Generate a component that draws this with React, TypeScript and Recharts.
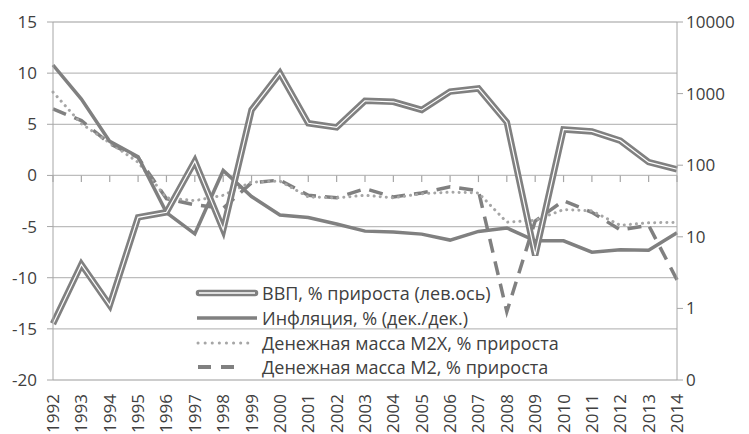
import React from "react";
import {
  CartesianGrid,
  Line,
  LineChart,
  ReferenceLine,
  XAxis,
  YAxis,
} from "recharts";

const years = [
  "1992", "1993", "1994", "1995", "1996", "1997", "1998", "1999", "2000", "2001", "2002", "2003",
  "2004", "2005", "2006", "2007", "2008", "2009", "2010", "2011", "2012", "2013", "2014",
];

// ВВП, % прироста (левая ось)
const gdp = [
  -14.5, -8.7, -12.7, -4.1, -3.6, 1.4, -5.3, 6.4, 10.0, 5.1, 4.7, 7.3,
  7.2, 6.4, 8.2, 8.5, 5.2, -7.8, 4.5, 4.3, 3.4, 1.3, 0.6,
];

// правая ось, логарифмическая
const inflation = [
  2509, 840, 215, 131, 21.8, 11, 84.4, 36.5, 20.2, 18.6, 15.1, 12,
  11.7, 10.9, 9, 11.9, 13.3, 8.8, 8.8, 6.1, 6.6, 6.5, 11.4,
];
const m2x = [
  1050, 380, 205, 110, 35, 32, 38, 58, 60, 36, 35, 38,
  35, 40, 42, 41, 16, 17, 24, 23, 14.5, 15.7, 15.9,
];
const m2 = [
  610, 420, 200, 128, 34, 28, 25, 57, 62, 38, 35, 47,
  36, 41, 50, 44, 0.9, 16.6, 32, 22, 12.5, 14.5, 2.5,
];

const leftTicks = [-20, -15, -10, -5, 0, 5, 10, 15];
const rightTicks = [0.1, 1, 10, 100, 1000, 10000];

const names = {
  gdp: "ВВП, % прироста (лев.ось)",
  inflation: "Инфляция, % (дек./дек.)",
  m2x: "Денежная масса M2X, % прироста",
  m2: "Денежная масса M2, % прироста",
};

const data = years.map((year, i) => ({
  year,
  gdp: gdp[i],
  inflation: inflation[i],
  m2x: m2x[i],
  m2: m2[i],
}));

// category boundaries for the small ticks on the zero line
const boundaries = Array.from({ length: years.length + 1 }, (_, i) => i);

const FONT = "'Open Sans', sans-serif";
const TEXT = "#404040";
const GRAY = "#808080";
const LIGHT = "#a6a6a6";
const GRID = "#bdbdbd";

const YearTick = (props: any) => {
  const { x, y, payload } = props;
  return (
    <text
      transform={`translate(${x + 6},${y}) rotate(-90)`}
      textAnchor="end"
      fill={TEXT}
      fontSize={17}
      fontFamily={FONT}
    >
      {payload.value}
    </text>
  );
};

const ChartLegend = () => {
  const rows = [
    {
      key: "gdp",
      icon: (
        <>
          <line x1={4} y1={6} x2={60} y2={6} stroke={GRAY} strokeWidth={6.5} strokeLinecap="round" />
          <line x1={4} y1={6} x2={60} y2={6} stroke="#fff" strokeWidth={1.3} />
        </>
      ),
    },
    {
      key: "inflation",
      icon: <line x1={2} y1={6} x2={62} y2={6} stroke={GRAY} strokeWidth={3.5} />,
    },
    {
      key: "m2x",
      icon: (
        <line x1={3} y1={6} x2={54} y2={6} stroke={LIGHT} strokeWidth={3} strokeDasharray="0.1 7" strokeLinecap="round" />
      ),
    },
    {
      key: "m2",
      icon: <line x1={3} y1={6} x2={40} y2={6} stroke={GRAY} strokeWidth={4} strokeDasharray="13 10" />,
    },
  ];
  return (
    <div
      style={{
        position: "absolute",
        left: 195,
        top: 281,
        fontFamily: FONT,
        fontSize: 18,
        color: TEXT,
        pointerEvents: "none",
      }}
    >
      {rows.map((r) => (
        <div key={r.key} style={{ display: "flex", alignItems: "center", height: 24.7 }}>
          <svg width={64} height={12} style={{ marginRight: 3 }}>
            {r.icon}
          </svg>
          <span style={{ whiteSpace: "nowrap" }}>{names[r.key as keyof typeof names]}</span>
        </div>
      ))}
    </div>
  );
};

export default function App() {
  return (
    <div style={{ position: "relative", width: 749, height: 434, background: "#fff" }}>
      <style>{`body{margin:0}`}</style>
      <LineChart
        width={749}
        height={434}
        data={data}
        margin={{ top: 22, right: 0, bottom: 0, left: 0 }}
      >
        <CartesianGrid vertical={false} stroke={GRID} strokeWidth={1.3} yAxisId="left" />
        <XAxis
          dataKey="year"
          height={54}
          axisLine={false}
          tickLine={false}
          interval={0}
          tickMargin={8}
          tick={<YearTick />}
        />
        <XAxis xAxisId="edges" type="number" domain={[0, years.length]} hide />
        <YAxis
          yAxisId="left"
          width={53}
          domain={[-20, 15]}
          ticks={leftTicks}
          interval={0}
          stroke={LIGHT}
          tickSize={6}
          tickMargin={10}
          tick={{ fill: TEXT, fontSize: 17, fontFamily: FONT }}
        />
        <YAxis
          yAxisId="right"
          orientation="right"
          width={72}
          scale="log"
          domain={[0.1, 10000]}
          ticks={rightTicks}
          interval={0}
          allowDataOverflow
          stroke={LIGHT}
          tickSize={6}
          tickMargin={3}
          tickFormatter={(v: number) => (v < 1 ? "0" : String(v))}
          tick={{ fill: TEXT, fontSize: 17, fontFamily: FONT, textAnchor: "start" }}
        />
        {boundaries.map((b) => (
          <ReferenceLine
            key={b}
            xAxisId="edges"
            yAxisId="left"
            segment={[
              { x: b, y: 0 },
              { x: b, y: -0.65 },
            ]}
            stroke={LIGHT}
            strokeWidth={1.2}
          />
        ))}
        <Line
          yAxisId="right"
          dataKey="m2"
          name={names.m2}
          stroke={GRAY}
          strokeWidth={3.5}
          strokeDasharray="14 9"
          dot={false}
          isAnimationActive={false}
        />
        <Line
          yAxisId="right"
          dataKey="m2x"
          name={names.m2x}
          stroke={LIGHT}
          strokeWidth={3}
          strokeDasharray="0.1 6"
          strokeLinecap="round"
          dot={false}
          isAnimationActive={false}
        />
        <Line
          yAxisId="right"
          dataKey="inflation"
          name={names.inflation}
          stroke={GRAY}
          strokeWidth={3.5}
          dot={false}
          isAnimationActive={false}
        />
        <Line
          yAxisId="left"
          dataKey="gdp"
          name={names.gdp}
          stroke={GRAY}
          strokeWidth={6.5}
          dot={false}
          isAnimationActive={false}
        />
        <Line
          yAxisId="left"
          dataKey="gdp"
          name="gdp-core"
          legendType="none"
          stroke="#fff"
          strokeWidth={1.2}
          dot={false}
          isAnimationActive={false}
        />
      </LineChart>
      <ChartLegend />
    </div>
  );
}
